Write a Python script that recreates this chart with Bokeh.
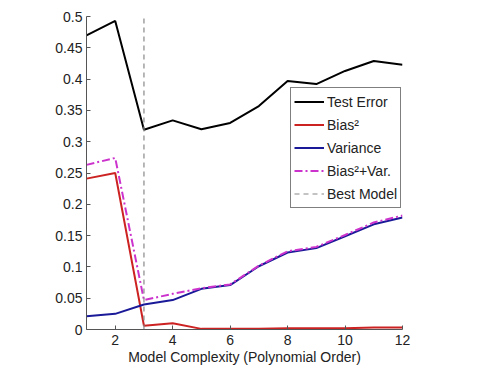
from bokeh.plotting import figure
from bokeh.models import FixedTicker, Legend, LegendItem, Range1d
from bokeh.embed import file_html
from bokeh.resources import INLINE

orders = [1, 2, 3, 4, 5, 6, 7, 8, 9, 10, 11, 12]
test_error = [0.470, 0.493, 0.319, 0.334, 0.320, 0.330, 0.357, 0.397, 0.392, 0.413, 0.429, 0.423]
bias_sq = [0.241, 0.250, 0.006, 0.010, 0.001, 0.001, 0.001, 0.002, 0.002, 0.002, 0.003, 0.003]
variance = [0.021, 0.025, 0.040, 0.047, 0.065, 0.071, 0.101, 0.123, 0.130, 0.149, 0.168, 0.179]
bias_plus_var = [0.263, 0.274, 0.047, 0.057, 0.066, 0.072, 0.102, 0.125, 0.132, 0.151, 0.171, 0.182]
best_model_x = [3, 3]
best_model_y = [0.0, 0.5]

x_ticks = [2, 4, 6, 8, 10, 12]
y_ticks = [0, 0.05, 0.1, 0.15, 0.2, 0.25, 0.3, 0.35, 0.4, 0.45, 0.5]
y_tick_labels = ["0", "0.05", "0.1", "0.15", "0.2", "0.25", "0.3", "0.35", "0.4", "0.45", "0.5"]

FONT = "Liberation Sans"

p = figure(width=477, height=375, output_backend="svg", toolbar_location=None,
           x_range=Range1d(1, 12), y_range=Range1d(0, 0.5),
           min_border_left=86, min_border_right=75, min_border_top=16, min_border_bottom=46)
p.outline_line_color = None
p.grid.visible = False
p.background_fill_color = "white"

r1 = p.line(orders, test_error, line_color="black", line_width=2)
r2 = p.line(orders, bias_sq, line_color="#cc2222", line_width=2)
r3 = p.line(orders, variance, line_color="#1a1a99", line_width=2)
r4 = p.line(orders, bias_plus_var, line_color="#cc33cc", line_width=2, line_dash="8 3 2 3")
r5 = p.line(best_model_x, best_model_y, line_color="#888888", line_width=1.2, line_dash="5 4")

for ax in (p.xaxis[0], p.yaxis[0]):
    ax.major_tick_in = 4
    ax.major_tick_out = 0
    ax.minor_tick_line_color = None
    ax.axis_line_color = "#555555"
    ax.major_tick_line_color = "#555555"
    ax.major_label_text_font = FONT
    ax.major_label_text_font_size = "14px"
    ax.major_label_text_color = "#222222"

p.xaxis[0].ticker = FixedTicker(ticks=x_ticks)
p.yaxis[0].ticker = FixedTicker(ticks=y_ticks)
p.yaxis[0].major_label_overrides = {t: l for t, l in zip(y_ticks, y_tick_labels)}
p.yaxis[0].major_label_standoff = 4
p.xaxis[0].axis_label = "Model Complexity (Polynomial Order)"
p.xaxis[0].axis_label_text_font = FONT
p.xaxis[0].axis_label_text_font_size = "14px"
p.xaxis[0].axis_label_text_font_style = "normal"
p.xaxis[0].axis_label_text_color = "#222222"
p.xaxis[0].axis_label_standoff = 1
p.xaxis[0].major_label_standoff = 5

legend = Legend(items=[
    LegendItem(label="Test Error", renderers=[r1]),
    LegendItem(label="Bias²", renderers=[r2]),
    LegendItem(label="Variance", renderers=[r3]),
    LegendItem(label="Bias²+Var.", renderers=[r4]),
    LegendItem(label="Best Model", renderers=[r5]),
], location=(204, 121))
legend.border_line_color = "black"
legend.border_line_width = 1
legend.background_fill_alpha = 1
legend.label_text_font = FONT
legend.label_text_font_size = "14px"
legend.label_text_color = "#222222"
legend.glyph_width = 30
legend.glyph_height = 21
legend.label_height = 21
legend.spacing = 2
legend.padding = 3
legend.margin = 0
legend.label_standoff = 3
p.add_layout(legend, "center")

open("out.html", "w").write(file_html(p, INLINE))
